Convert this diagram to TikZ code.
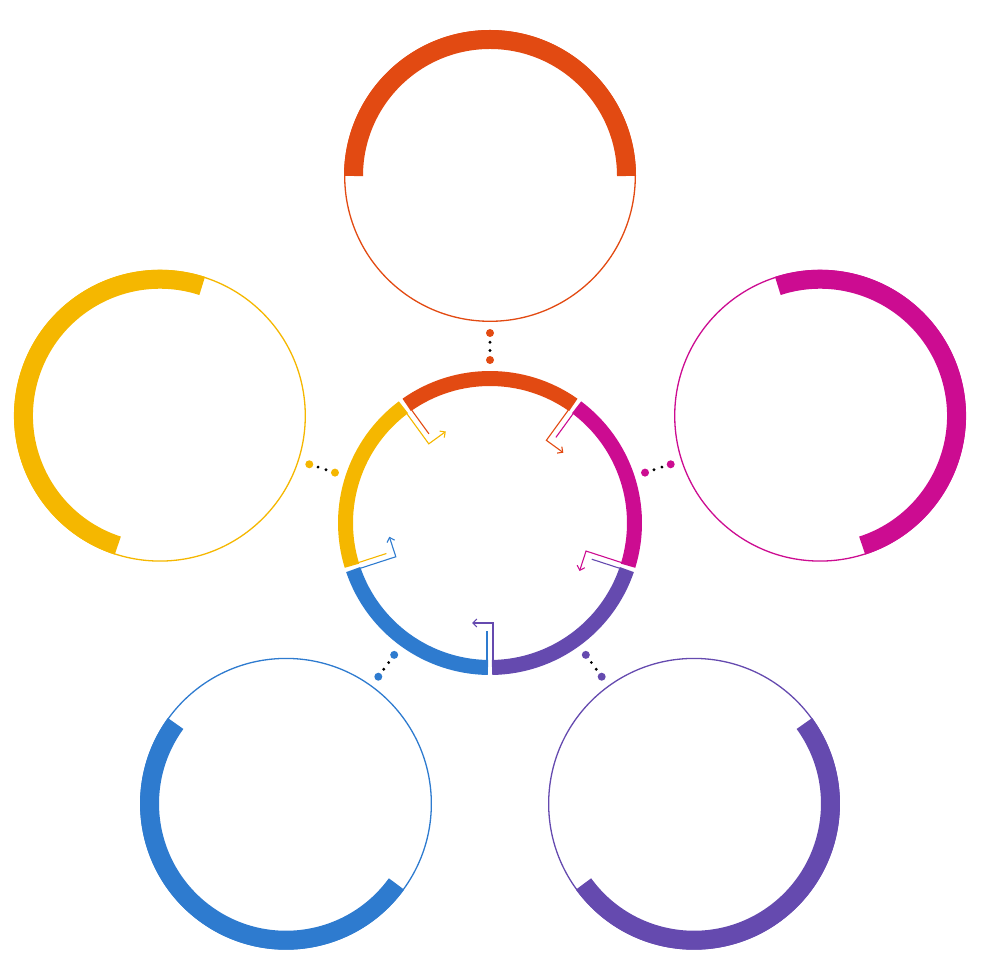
\documentclass[tikz,border=0pt]{standalone}
\usetikzlibrary{calc,arrows.meta}
\definecolor{cor}{HTML}{E24A12}
\definecolor{cyl}{HTML}{F5B700}
\definecolor{cmg}{HTML}{CC0C91}
\definecolor{cbl}{HTML}{2E7BCF}
\definecolor{cpu}{HTML}{654AAF}
\tikzset{
  thinring/.style={line width=1.3},
  thickarc/.style={line width=19},
  segarc/.style={line width=15},
  gapline/.style={line width=1.1},
  gaparrow/.style={line width=1.1,-{Straight Barb[length=4,width=8]}},
}
\begin{document}
\begin{tikzpicture}[x=1pt,y=1pt]
\useasboundingbox (0,0) rectangle (980,980);
\coordinate (C) at (490,457);
% outer circles
\foreach \ang/\col/\nm in {90/cor/oa,162/cyl/ob,18/cmg/oc,234/cbl/od,306/cpu/oe} {
  \pgfmathsetmacro{\sa}{\ang-90}
  \pgfmathsetmacro{\ea}{\ang+90}
  \coordinate (\nm) at ($(C)+(\ang:347)$);
  \draw[\col, thinring] (\nm) circle (145.3);
  \draw[\col, thickarc] ($(\nm)+(\sa:136.5)$) arc[start angle=\sa, end angle=\ea, radius=136.5];
  \coordinate (\nm-p) at ($(C)+(\ang:163)$);
  \coordinate (\nm-q) at ($(C)+(\ang:190)$);
  \fill[\col] (\nm-p) circle (4);
  \fill[\col] (\nm-q) circle (4);
  \fill[black] ($(\nm-p)!0.35!(\nm-q)$) circle (1.6);
  \fill[black] ($(\nm-p)!0.66!(\nm-q)$) circle (1.6);
}
% central ring segments
\foreach \a/\b/\col in {126/198/cyl,54/126/cor,-18/54/cmg,-90/-18/cpu,-162/-90/cbl} {
  \pgfmathsetmacro{\sa}{\a+0.8}
  \pgfmathsetmacro{\ea}{\b-0.8}
  \draw[\col, segarc] ($(C)+(\sa:144.5)$) arc[start angle=\sa, end angle=\ea, radius=144.5];
}
% gap arrows
\foreach \t/\ca/\cb in {126/cyl/cor,54/cor/cmg,-18/cmg/cpu,-90/cpu/cbl,-162/cbl/cyl} {
  \pgfmathsetmacro{\tp}{\t+90}
  \pgfmathsetmacro{\tm}{\t-90}
  \draw[\ca, gaparrow] ($(C)+(\t:137)+(\tp:3)$) -- ($(C)+(\t:100)+(\tp:3)$) -- ($(C)+(\t:100)+(\tm:18)$);
  \draw[\cb, gapline] ($(C)+(\t:137)+(\tm:3)$) -- ($(C)+(\t:108)+(\tm:3)$);
}
\end{tikzpicture}
\end{document}
